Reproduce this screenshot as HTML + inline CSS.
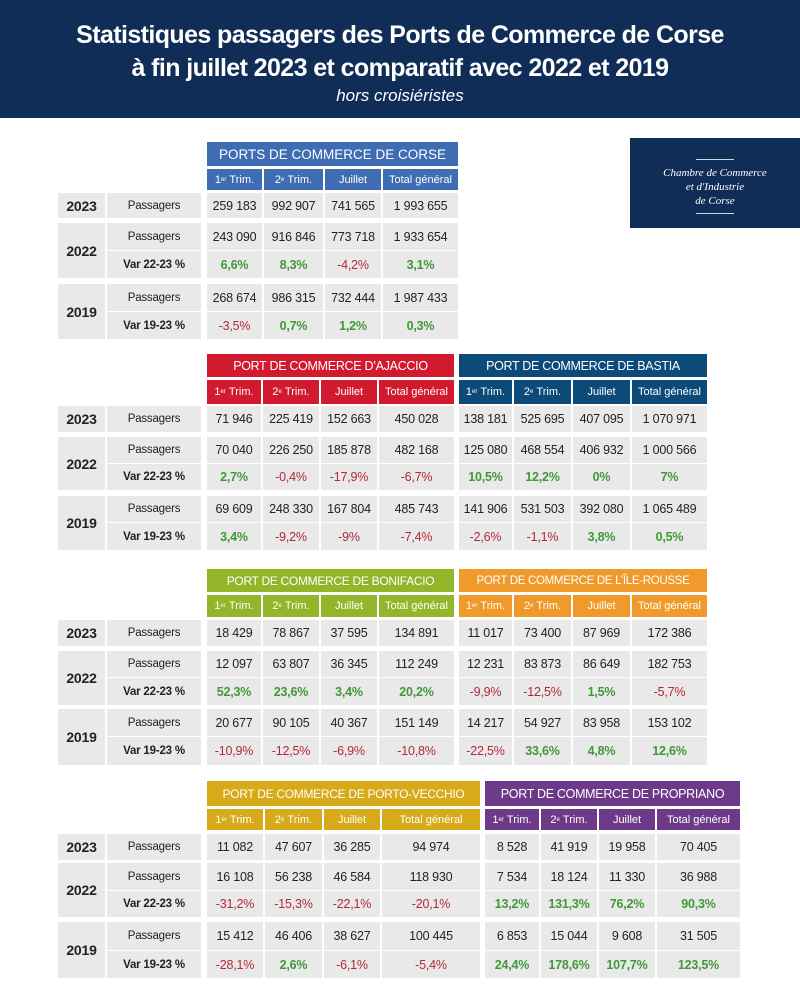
<!DOCTYPE html>
<html><head><meta charset="utf-8">
<style>
*{margin:0;padding:0;box-sizing:border-box}
body{width:800px;height:1000px;background:#fff;position:relative;font-family:"Liberation Sans",sans-serif;overflow:hidden}
#hd{position:absolute;left:0;top:0;width:800px;height:118px;background:#0f2d57;color:#fff;text-align:center}
#hd .l{position:absolute;left:0;width:800px;font-weight:bold;font-size:25px;letter-spacing:-0.6px}
#hd .s{position:absolute;left:0;width:800px;top:86px;font-style:italic;font-size:17px}
#logo{position:absolute;left:630px;top:138px;width:170px;height:90px;background:#0f2d57;color:#fff;font-family:"Liberation Serif",serif;font-style:italic;font-size:11px;text-align:center;line-height:14px;padding-top:21px}
#logo b{display:block;width:38px;height:1px;background:#cfd6e0;margin:0 auto}
.g{position:absolute;display:grid;column-gap:2px}
.g>div{background:#e9e9e9;display:flex;align-items:center;justify-content:center;font-size:12.5px;color:#222;white-space:nowrap;letter-spacing:-0.2px}
.g>.t{grid-column:1/-1;grid-row:1;color:#fff;font-size:13.5px;letter-spacing:0}
.g>.t.k{font-size:12.5px;letter-spacing:-0.3px}
.g>.h{grid-row:3;color:#fff;font-size:11px;letter-spacing:0}
.h sup{font-size:6px;vertical-align:5px}
.r5{grid-row:5}.r7{grid-row:7}.r9{grid-row:9}.r11{grid-row:11}.r13{grid-row:13}
.L{grid-template-columns:47px 94px}
.L>.y{font-weight:bold;font-size:14px;grid-column:1}
.L>.p{grid-column:2;font-size:11.5px}
.L>.v{grid-column:2;font-size:11.5px;font-weight:bold}
.y5{grid-row:5}.y7{grid-row:7/10}.y11{grid-row:11/14}
.gr{color:#3f9a35!important;font-weight:bold}
.rd{color:#b3283b!important}
.b1{grid-template-rows:24px 3px 21px 3px 25px 5px 27px 1px 27px 6px 27px 1px 27px;top:142px}
.b2{grid-template-rows:23px 3px 24px 2px 26px 5px 26px 1px 26px 6px 26px 1px 27px;top:354px}
.b3{grid-template-rows:23px 3px 22px 3px 26px 5px 26px 1px 27px 4px 27px 1px 28px;top:569px}
.b4{grid-template-rows:25px 3px 21px 4px 26px 3px 27px 1px 26px 5px 28px 1px 27px;top:781px}
</style></head><body>
<div id="hd">
<div class="l" style="top:21px">Statistiques passagers des Ports de Commerce de Corse</div>
<div class="l" style="top:54px">à fin juillet 2023 et comparatif avec 2022 et 2019</div>
<div class="s">hors croisiéristes</div>
</div>
<div id="logo"><b></b><div style="height:6px"></div>Chambre de Commerce<br>et d'Industrie<br>de Corse<div style="height:5px"></div><b></b></div>

<!-- Block 1 -->
<div class="g L b1" style="left:58px"><div class="y y5">2023</div><div class="p r5">Passagers</div><div class="y y7">2022</div><div class="p r7">Passagers</div><div class="v r9">Var 22-23 %</div><div class="y y11">2019</div><div class="p r11">Passagers</div><div class="v r13">Var 19-23 %</div></div>
<div class="g b1" style="left:207px;grid-template-columns:55px 59px 56px 75px">
<div class="t" style="background:#3e6db3">PORTS DE COMMERCE DE CORSE</div>
<div class="h" style="background:#3e6db3">1<sup>er</sup>&nbsp;Trim.</div><div class="h" style="background:#3e6db3">2<sup>e</sup>&nbsp;Trim.</div><div class="h" style="background:#3e6db3">Juillet</div><div class="h" style="background:#3e6db3">Total général</div>
<div class="r5">259 183</div><div class="r5">992 907</div><div class="r5">741 565</div><div class="r5">1 993 655</div>
<div class="r7">243 090</div><div class="r7">916 846</div><div class="r7">773 718</div><div class="r7">1 933 654</div>
<div class="r9 gr">6,6%</div><div class="r9 gr">8,3%</div><div class="r9 rd">-4,2%</div><div class="r9 gr">3,1%</div>
<div class="r11">268 674</div><div class="r11">986 315</div><div class="r11">732 444</div><div class="r11">1 987 433</div>
<div class="r13 rd">-3,5%</div><div class="r13 gr">0,7%</div><div class="r13 gr">1,2%</div><div class="r13 gr">0,3%</div>
</div>

<!-- Block 2 -->
<div class="g L b2" style="left:58px"><div class="y y5">2023</div><div class="p r5">Passagers</div><div class="y y7">2022</div><div class="p r7">Passagers</div><div class="v r9">Var 22-23 %</div><div class="y y11">2019</div><div class="p r11">Passagers</div><div class="v r13">Var 19-23 %</div></div>
<div class="g b2" style="left:207px;grid-template-columns:54px 56px 56px 75px">
<div class="t k" style="background:#d21a2f">PORT DE COMMERCE D’AJACCIO</div>
<div class="h" style="background:#d21a2f">1<sup>er</sup>&nbsp;Trim.</div><div class="h" style="background:#d21a2f">2<sup>e</sup>&nbsp;Trim.</div><div class="h" style="background:#d21a2f">Juillet</div><div class="h" style="background:#d21a2f">Total général</div>
<div class="r5">71 946</div><div class="r5">225 419</div><div class="r5">152 663</div><div class="r5">450 028</div>
<div class="r7">70 040</div><div class="r7">226 250</div><div class="r7">185 878</div><div class="r7">482 168</div>
<div class="r9 gr">2,7%</div><div class="r9 rd">-0,4%</div><div class="r9 rd">-17,9%</div><div class="r9 rd">-6,7%</div>
<div class="r11">69 609</div><div class="r11">248 330</div><div class="r11">167 804</div><div class="r11">485 743</div>
<div class="r13 gr">3,4%</div><div class="r13 rd">-9,2%</div><div class="r13 rd">-9%</div><div class="r13 rd">-7,4%</div>
</div>
<div class="g b2" style="left:459px;grid-template-columns:53px 57px 57px 75px">
<div class="t k" style="background:#0c4a7a">PORT DE COMMERCE DE BASTIA</div>
<div class="h" style="background:#0c4a7a">1<sup>er</sup>&nbsp;Trim.</div><div class="h" style="background:#0c4a7a">2<sup>e</sup>&nbsp;Trim.</div><div class="h" style="background:#0c4a7a">Juillet</div><div class="h" style="background:#0c4a7a">Total général</div>
<div class="r5">138 181</div><div class="r5">525 695</div><div class="r5">407 095</div><div class="r5">1 070 971</div>
<div class="r7">125 080</div><div class="r7">468 554</div><div class="r7">406 932</div><div class="r7">1 000 566</div>
<div class="r9 gr">10,5%</div><div class="r9 gr">12,2%</div><div class="r9 gr">0%</div><div class="r9 gr">7%</div>
<div class="r11">141 906</div><div class="r11">531 503</div><div class="r11">392 080</div><div class="r11">1 065 489</div>
<div class="r13 rd">-2,6%</div><div class="r13 rd">-1,1%</div><div class="r13 gr">3,8%</div><div class="r13 gr">0,5%</div>
</div>

<!-- Block 3 -->
<div class="g L b3" style="left:58px"><div class="y y5">2023</div><div class="p r5">Passagers</div><div class="y y7">2022</div><div class="p r7">Passagers</div><div class="v r9">Var 22-23 %</div><div class="y y11">2019</div><div class="p r11">Passagers</div><div class="v r13">Var 19-23 %</div></div>
<div class="g b3" style="left:207px;grid-template-columns:54px 56px 56px 75px">
<div class="t k" style="background:#93b52a;font-size:12px">PORT DE COMMERCE DE BONIFACIO</div>
<div class="h" style="background:#93b52a">1<sup>er</sup>&nbsp;Trim.</div><div class="h" style="background:#93b52a">2<sup>e</sup>&nbsp;Trim.</div><div class="h" style="background:#93b52a">Juillet</div><div class="h" style="background:#93b52a">Total général</div>
<div class="r5">18 429</div><div class="r5">78 867</div><div class="r5">37 595</div><div class="r5">134 891</div>
<div class="r7">12 097</div><div class="r7">63 807</div><div class="r7">36 345</div><div class="r7">112 249</div>
<div class="r9 gr">52,3%</div><div class="r9 gr">23,6%</div><div class="r9 gr">3,4%</div><div class="r9 gr">20,2%</div>
<div class="r11">20 677</div><div class="r11">90 105</div><div class="r11">40 367</div><div class="r11">151 149</div>
<div class="r13 rd">-10,9%</div><div class="r13 rd">-12,5%</div><div class="r13 rd">-6,9%</div><div class="r13 rd">-10,8%</div>
</div>
<div class="g b3" style="left:459px;grid-template-columns:53px 57px 57px 75px">
<div class="t k" style="background:#ef9a2a;font-size:11.5px">PORT DE COMMERCE DE L’ÎLE-ROUSSE</div>
<div class="h" style="background:#ef9a2a">1<sup>er</sup>&nbsp;Trim.</div><div class="h" style="background:#ef9a2a">2<sup>e</sup>&nbsp;Trim.</div><div class="h" style="background:#ef9a2a">Juillet</div><div class="h" style="background:#ef9a2a">Total général</div>
<div class="r5">11 017</div><div class="r5">73 400</div><div class="r5">87 969</div><div class="r5">172 386</div>
<div class="r7">12 231</div><div class="r7">83 873</div><div class="r7">86 649</div><div class="r7">182 753</div>
<div class="r9 rd">-9,9%</div><div class="r9 rd">-12,5%</div><div class="r9 gr">1,5%</div><div class="r9 rd">-5,7%</div>
<div class="r11">14 217</div><div class="r11">54 927</div><div class="r11">83 958</div><div class="r11">153 102</div>
<div class="r13 rd">-22,5%</div><div class="r13 gr">33,6%</div><div class="r13 gr">4,8%</div><div class="r13 gr">12,6%</div>
</div>

<!-- Block 4 -->
<div class="g L b4" style="left:58px"><div class="y y5">2023</div><div class="p r5">Passagers</div><div class="y y7">2022</div><div class="p r7">Passagers</div><div class="v r9">Var 22-23 %</div><div class="y y11">2019</div><div class="p r11">Passagers</div><div class="v r13">Var 19-23 %</div></div>
<div class="g b4" style="left:207px;grid-template-columns:56px 57px 56px 98px">
<div class="t k" style="background:#d7aa1a;font-size:12px">PORT DE COMMERCE DE PORTO-VECCHIO</div>
<div class="h" style="background:#d7aa1a">1<sup>er</sup>&nbsp;Trim.</div><div class="h" style="background:#d7aa1a">2<sup>e</sup>&nbsp;Trim.</div><div class="h" style="background:#d7aa1a">Juillet</div><div class="h" style="background:#d7aa1a">Total général</div>
<div class="r5">11 082</div><div class="r5">47 607</div><div class="r5">36 285</div><div class="r5">94 974</div>
<div class="r7">16 108</div><div class="r7">56 238</div><div class="r7">46 584</div><div class="r7">118 930</div>
<div class="r9 rd">-31,2%</div><div class="r9 rd">-15,3%</div><div class="r9 rd">-22,1%</div><div class="r9 rd">-20,1%</div>
<div class="r11">15 412</div><div class="r11">46 406</div><div class="r11">38 627</div><div class="r11">100 445</div>
<div class="r13 rd">-28,1%</div><div class="r13 gr">2,6%</div><div class="r13 rd">-6,1%</div><div class="r13 rd">-5,4%</div>
</div>
<div class="g b4" style="left:485px;grid-template-columns:54px 56px 56px 83px">
<div class="t k" style="background:#6d3a8a;font-size:12.5px">PORT DE COMMERCE DE PROPRIANO</div>
<div class="h" style="background:#6d3a8a">1<sup>er</sup>&nbsp;Trim.</div><div class="h" style="background:#6d3a8a">2<sup>e</sup>&nbsp;Trim.</div><div class="h" style="background:#6d3a8a">Juillet</div><div class="h" style="background:#6d3a8a">Total général</div>
<div class="r5">8 528</div><div class="r5">41 919</div><div class="r5">19 958</div><div class="r5">70 405</div>
<div class="r7">7 534</div><div class="r7">18 124</div><div class="r7">11 330</div><div class="r7">36 988</div>
<div class="r9 gr">13,2%</div><div class="r9 gr">131,3%</div><div class="r9 gr">76,2%</div><div class="r9 gr">90,3%</div>
<div class="r11">6 853</div><div class="r11">15 044</div><div class="r11">9 608</div><div class="r11">31 505</div>
<div class="r13 gr">24,4%</div><div class="r13 gr">178,6%</div><div class="r13 gr">107,7%</div><div class="r13 gr">123,5%</div>
</div>
</body></html>
